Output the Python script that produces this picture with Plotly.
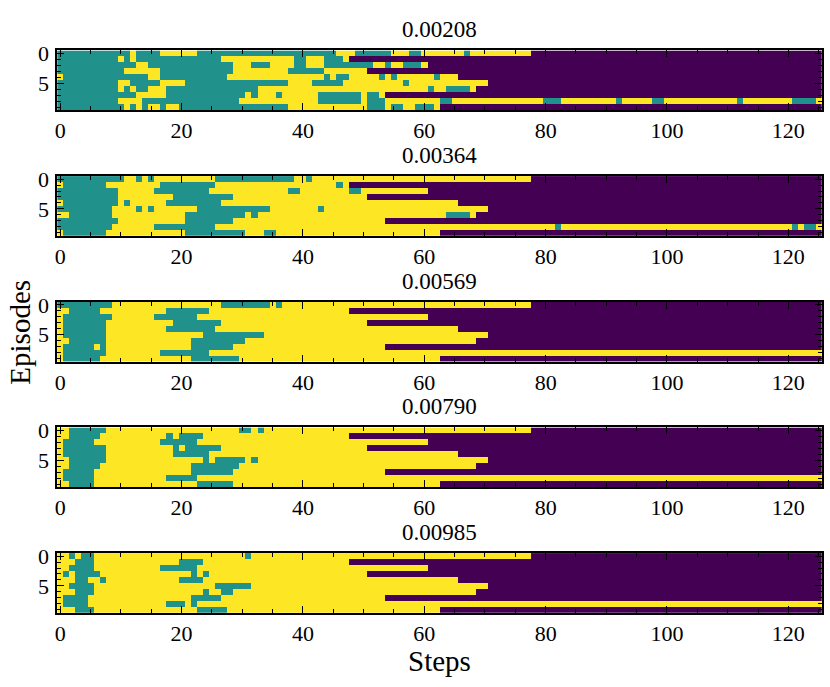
import plotly.graph_objects as go

N_STEPS = 126
N_EPISODES = 10

TITLES = ["0.00208", "0.00364", "0.00569", "0.00790", "0.00985"]
X_TICKS = [0, 20, 40, 60, 80, 100, 120]
Y_TICKS = [0, 5]

# one string per episode: runs of T (teal) / Y (yellow); the rest of the row is P (finished)
RUNS_00208 = [
    "T12 Y1 T4 Y6 T23 Y3 T6 Y3 T2 Y7 T1 Y10",
    "T10 Y1 T1 Y1 T14 Y12 T2 Y3 T3 Y1",
    "T13 Y2 T14 Y3 T3 Y4 T2 Y3 T8 Y2 T1 Y2 T3 Y1",
    "T11 Y6 T12 Y9 T6 Y7",
    "Y1 T14 Y2 T11 Y16 T1 Y1 T2 Y5 T1 Y1 T1 Y6 T1 Y3",
    "T10 Y2 T5 Y4 T17 Y4 T5 Y10 T1 Y13",
    "T10 Y1 T1 Y1 T2 Y3 T15 Y28 T1 Y2 T4 Y1",
    "T13 Y5 T13 Y1 T1 Y3 T1 Y6 T7 Y1 T2 Y1",
    "T10 Y4 T16 Y13 T7 Y1 T3 Y9 T2 Y15 T3 Y9 T1 Y5 T2 Y12 T1 Y8 T4 Y1",
    "T11 Y1 T1 Y1 T1 Y2 T1 Y2 T18 Y13 T3 Y1 T2 Y2 T3 Y1",
]
RUNS_00364 = [
    "T11 Y2 T1 Y1 T1 Y10 T13 Y2 T1 Y36",
    "Y1 T7 Y9 T9 Y20 T1 Y1",
    "T10 Y6 T9 Y13 T2 Y8 T2 Y11",
    "T10 Y9 T10 Y22",
    "Y1 T9 Y1 T1 Y6 T9 Y39",
    "T9 Y4 T1 Y1 T1 Y7 T12 Y8 T1 Y27",
    "Y2 T7 Y12 T10 Y1 T1 Y31 T4 Y1",
    "T10 Y11 T8 Y25",
    "T9 Y7 T10 Y56 T1 Y38 T1 Y1 T2 Y1",
    "Y1 T7 Y13 T10 Y3 T2 Y27",
]
RUNS_00569 = [
    "T9 Y18 T8 Y1 T1 Y41",
    "Y2 T5 Y11 T7 Y23",
    "Y1 T8 Y7 T7 Y38",
    "Y1 T7 Y11 T8 Y24",
    "Y1 T7 Y10 T8 Y40",
    "Y1 T7 Y16 T10 Y37",
    "Y2 T6 Y14 T9 Y38",
    "Y1 T5 Y1 T1 Y14 T7 Y25",
    "Y1 T7 Y9 T8 Y101",
    "Y1 T6 Y15 T8 Y33",
]
RUNS_00790 = [
    "Y2 T6 Y22 T2 Y1 T1 Y44",
    "Y2 T5 Y11 T1 Y1 T4 Y24",
    "Y1 T5 Y11 T6 Y38",
    "Y1 T7 Y11 T1 Y1 T6 Y24",
    "Y1 T7 Y11 T6 Y41",
    "Y2 T6 Y16 T1 Y1 T5 Y1 T1 Y38",
    "Y2 T5 Y15 T8 Y39",
    "Y1 T5 Y16 T7 Y25",
    "Y1 T5 Y12 T5 Y103",
    "Y2 T4 Y17 T6 Y34",
]
RUNS_00985 = [
    "Y2 T1 Y1 T2 Y25 T1 Y46",
    "Y3 T3 Y14 T4 Y24",
    "Y2 T4 Y11 T6 Y38",
    "Y1 T1 Y1 T4 Y15 T1 Y1 T1 Y26",
    "Y3 T2 Y2 T1 Y12 T4 Y42",
    "Y2 T4 Y20 T6 Y39",
    "Y3 T3 Y18 T1 Y2 T2 Y40",
    "Y1 T4 Y17 T5 Y27",
    "Y1 T4 Y13 T3 Y1 T1 Y103",
    "Y3 T3 Y17 T5 Y35",
]

PANELS = [RUNS_00208, RUNS_00364, RUNS_00569, RUNS_00790, RUNS_00985]

CODE = {"P": 0, "T": 1, "Y": 2}
COLORSCALE = [[0.0, "#440154"], [0.5, "#21918c"], [1.0, "#fde725"]]


def decode(rows):
    grid = []
    for row in rows:
        cells = []
        for tok in row.split():
            cells += [CODE[tok[0]]] * int(tok[1:])
        cells += [CODE["P"]] * (N_STEPS - len(cells))
        grid.append(cells)
    return grid


W, H = 830, 687
LEFT, RIGHT = 55.3, 821.7
TOPS = [42.0, 169.3, 296.7, 424.0, 551.3]
PANEL_H = 60.5
FONT = "Liberation Serif"

fig = go.Figure()
layout = dict(
    width=W, height=H,
    margin=dict(l=0, r=0, t=0, b=0),
    paper_bgcolor="white", plot_bgcolor="white",
    font=dict(family=FONT, size=22, color="black"),
    showlegend=False,
)
annotations = []

for i, (rows, title) in enumerate(zip(PANELS, TITLES)):
    n = "" if i == 0 else str(i + 1)
    fig.add_trace(go.Heatmap(
        z=decode(rows),
        x=list(range(N_STEPS)),
        y=list(range(N_EPISODES)),
        colorscale=COLORSCALE, zmin=0, zmax=2,
        showscale=False, hoverinfo="skip",
        xaxis="x" + n, yaxis="y" + n,
    ))
    top = TOPS[i]
    ydom = [1 - (top + PANEL_H) / H, 1 - top / H]
    axis_style = dict(
        ticks="inside", ticklen=7, tickwidth=1.2, tickcolor="black",
        mirror="allticks", showline=True, linecolor="black", linewidth=1.5,
        showgrid=False, zeroline=False,
    )
    layout["xaxis" + n] = dict(
        domain=[LEFT / W, RIGHT / W], anchor="y" + n,
        range=[-0.5, N_STEPS - 0.5], tickvals=X_TICKS,
        ticklabelstandoff=0,
        minor=dict(dtick=5, tick0=0, ticks="inside", ticklen=4, tickcolor="black", showgrid=False),
        **axis_style,
    )
    layout["yaxis" + n] = dict(
        domain=ydom, anchor="x" + n,
        range=[N_EPISODES - 0.5, -0.5], tickvals=Y_TICKS,
        ticklabelstandoff=2,
        minor=dict(dtick=1, tick0=0, ticks="inside", ticklen=4, tickcolor="black", showgrid=False),
        **axis_style,
    )
    annotations.append(dict(
        text=title, x=(LEFT + RIGHT) / 2 / W, y=1 - (top - 21) / H,
        xref="paper", yref="paper", showarrow=False,
        xanchor="center", yanchor="middle", font=dict(size=23),
    ))

annotations.append(dict(
    text="Episodes", x=18 / W, y=1 - 327 / H, xref="paper", yref="paper",
    showarrow=False, textangle=-90, xanchor="center", yanchor="middle",
    font=dict(size=29),
))
annotations.append(dict(
    text="Steps", x=(LEFT + RIGHT) / 2 / W, y=1 - 661 / H, xref="paper", yref="paper",
    showarrow=False, xanchor="center", yanchor="middle", font=dict(size=29),
))
layout["annotations"] = annotations
fig.update_layout(**layout)

fig.write_html(
    "out.html",
    config={"displayModeBar": False},
    post_script="document.body.style.margin='0px';",
)
